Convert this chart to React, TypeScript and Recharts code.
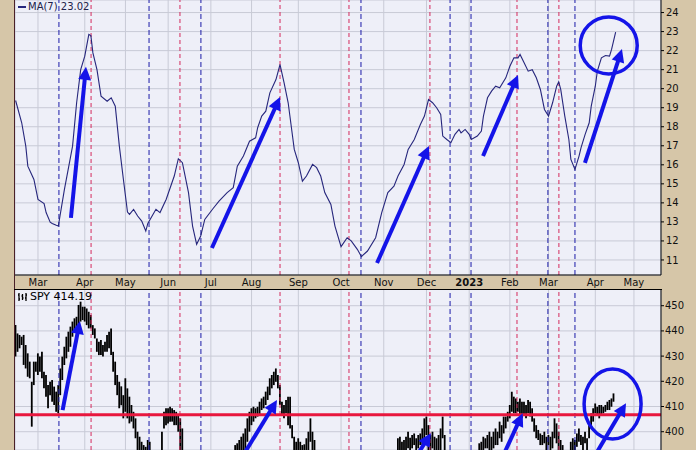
import React from 'react';
import {
  ComposedChart,
  Line,
  Bar,
  XAxis,
  YAxis,
  CartesianGrid,
  ReferenceLine,
  ReferenceDot,
} from 'recharts';

// x axis is trading-day index, 0 = mid Feb 2022
const monthTicks = [11, 34, 54, 75, 96, 116, 139, 160, 181, 202, 223, 243, 262, 285, 304];
const monthLabels = ['Mar', 'Apr', 'May', 'Jun', 'Jul', 'Aug', 'Sep', 'Oct', 'Nov', 'Dec', '2023', 'Feb', 'Mar', 'Apr', 'May'];

const maTicks = [11, 12, 13, 14, 15, 16, 17, 18, 19, 20, 21, 22, 23, 24];
const spyTicks = [400, 410, 420, 430, 440, 450];

// MA(7) line
const maDay = [
  0, 3, 5, 6, 9, 11, 14, 15, 17, 18, 20, 21, 24, 28, 30, 32, 34, 36, 37, 38,
  40, 42, 45, 47, 49, 51, 53, 55, 56, 58, 60, 62, 64, 65, 69, 71, 74, 78, 80, 82,
  85, 87, 89, 91, 93, 97, 100, 104, 107, 109, 112, 115, 118, 119, 121, 123, 125, 128, 130, 132,
  134, 137, 139, 141, 143, 146, 148, 150, 152, 155, 157, 160, 163, 165, 168, 170, 173, 177, 180, 183,
  186, 188, 191, 193, 196, 199, 201, 203, 205, 207, 209, 210, 212, 214, 216, 218, 219, 221, 223, 224,
  227, 229, 230, 232, 234, 236, 238, 241, 243, 245, 247, 248, 250, 252, 254, 256, 258, 260, 262, 264,
  266, 267, 268, 270, 272, 273, 275, 277, 278, 280, 282, 283, 285, 286, 288, 290, 292, 293, 295,
];
const maValue = [
  19.38, 18.21, 16.98, 15.93, 15.23, 14.18, 13.96, 13.49, 12.99, 12.92, 12.82, 12.78, 14.71, 16.98, 19.26, 21.0, 21.71, 22.85, 22.79, 21.88,
  21.0, 19.61, 19.34, 19.52, 19.08, 16.98, 15.23, 13.52, 13.4, 13.66, 13.31, 13.04, 12.52, 12.92, 13.66, 13.49, 14.18, 15.41, 16.32, 16.11,
  14.54, 12.78, 11.82, 12.26, 13.13, 13.69, 14.09, 14.54, 14.8, 15.93, 16.46, 17.24, 17.42, 17.95, 18.56, 18.82, 19.78, 20.48, 21.27, 20.31,
  19.26, 16.81, 16.11, 15.14, 15.41, 16.02, 15.85, 15.41, 14.54, 13.92, 12.78, 11.7, 12.17, 12.0, 11.56, 11.18, 11.47, 12.17, 13.49, 14.54,
  14.88, 15.41, 16.02, 16.81, 17.33, 18.12, 18.56, 19.43, 19.26, 19.0, 18.65, 17.51, 17.33, 17.16, 17.6, 17.86, 17.68, 17.86, 17.6, 17.33,
  17.51, 17.77, 18.56, 19.52, 19.87, 20.13, 20.05, 20.57, 21.18, 21.62, 21.62, 21.8, 21.36, 20.92, 21.0, 20.57, 19.96, 18.91, 18.56, 19.26,
  20.13, 20.36, 19.96, 18.56, 17.33, 16.28, 15.76, 16.46, 16.9, 17.6, 18.21, 19.08, 20.13, 20.92, 21.62, 21.74, 21.71, 22.06, 22.97,
];

// SPY daily high / low, only the days that show inside the lower panel
const spyDay = [
  0, 1, 2, 3, 4, 5, 6, 7, 8, 9, 10, 11, 12, 13, 14, 15, 16, 17, 18, 19,
  20, 21, 22, 23, 24, 25, 26, 27, 28, 29, 30, 31, 32, 33, 34, 35, 36, 37, 38, 39,
  40, 41, 42, 43, 44, 45, 46, 47, 48, 49, 50, 51, 52, 53, 54, 55, 56, 57, 58, 59,
  60, 61, 62, 63, 64, 65, 66,
  72, 73, 74, 75, 76, 77, 78, 79, 80, 81, 82,
  108, 109, 110, 111, 112, 113, 114, 115, 116, 117, 118, 119, 120, 121, 122, 123, 124, 125, 126, 127,
  128, 129, 130, 131, 132, 133, 134, 135, 136, 137, 138, 139, 140, 141, 142, 143, 144, 145, 146, 147,
  188, 189, 190, 191, 192, 193, 194, 195, 196, 197, 198, 199, 200, 201, 202, 203, 204, 205, 206, 207,
  208, 209, 210, 211,
  228, 229, 230, 231, 232, 233, 234, 235, 236, 237, 238, 239, 240, 241, 242, 243, 244, 245, 246, 247,
  248, 249, 250, 251, 252, 253, 254, 255, 256, 257, 258, 259, 260, 261, 262, 263, 264, 265, 266, 267,
  268, 269,
  273, 274, 275, 276, 277, 278, 279, 280, 281, 282, 283, 284, 285, 286, 287, 288, 289, 290, 291, 292,
  293, 294,
];
const spyHigh = [
  442.3, 439.0, 438.4, 437.7, 438.4, 434.4, 431.1, 427.8, 419.8, 427.8, 427.8, 431.1, 429.8, 431.7, 423.8, 422.5, 418.5, 419.8, 420.5, 417.9,
  415.9, 418.5, 425.1, 429.8, 433.7, 437.7, 439.7, 441.7, 443.7, 445.0, 445.6, 450.3, 451.6, 449.6, 449.6, 448.9, 447.6, 446.3, 442.3, 441.0,
  437.0, 435.7, 436.4, 434.4, 435.7, 438.4, 439.7, 441.0, 431.7, 427.8, 422.5, 419.8, 418.0, 414.5, 421.2, 417.2, 413.9, 410.6, 407.9, 405.3,
  400.0, 398.0, 396.0, 394.7, 394.0, 396.7, 396.0,
  400.0, 407.9, 409.3, 409.3, 409.9, 409.3, 408.6, 407.9, 406.6, 405.3, 401.3,
  394.7, 395.4, 396.7, 398.0, 399.3, 401.3, 405.3, 407.9, 409.3, 409.9, 409.3, 409.9, 411.9, 413.2, 413.9, 415.9, 417.9, 421.2, 422.5, 423.8,
  425.1, 422.5, 418.5, 411.9, 410.6, 412.6, 413.9, 413.9, 402.6, 398.0, 396.0, 397.4, 396.0, 394.7, 395.0, 397.4, 400.0, 405.3, 400.0, 396.7,
  397.4, 398.0, 396.0, 396.7, 398.0, 400.0, 397.6, 398.7, 399.3, 397.4, 398.7, 399.3, 401.3, 405.3, 406.0, 402.6, 398.7, 400.0, 398.0, 397.4,
  398.7, 401.3, 406.0, 398.7,
  395.4, 396.0, 398.0, 397.4, 398.7, 400.0, 398.0, 400.0, 401.3, 400.0, 404.0, 402.6, 406.0, 406.0, 407.9, 410.6, 415.9, 413.9, 413.2, 411.9,
  413.2, 411.9, 411.9, 410.6, 412.6, 411.9, 409.3, 405.3, 402.6, 400.7, 399.3, 398.7, 400.0, 398.0, 398.7, 398.0, 400.0, 405.3, 403.3, 400.0,
  396.7, 394.7,
  396.0, 397.4, 396.7, 399.3, 401.3, 398.7, 398.0, 400.0, 397.4, 402.6, 407.3, 409.3, 411.2, 409.9, 410.6, 410.6, 409.9, 410.6, 411.9, 412.6,
  413.2, 415.2,
];
const spyLow = [
  429.8, 431.7, 433.1, 434.4, 426.5, 425.1, 421.8, 421.2, 402.0, 418.5, 423.8, 422.5, 423.8, 421.2, 417.2, 413.9, 409.3, 414.5, 411.9, 410.6,
  407.9, 407.3, 414.5, 420.5, 426.5, 429.1, 431.7, 433.7, 437.7, 439.7, 440.3, 442.3, 443.7, 444.3, 443.7, 442.3, 441.0, 441.0, 438.4, 437.0,
  431.7, 430.4, 430.4, 429.8, 431.7, 431.7, 433.1, 430.4, 423.8, 418.5, 414.5, 409.3, 410.5, 405.3, 407.9, 405.3, 403.3, 404.0, 401.3, 397.4,
  392.0, 390, 390, 389, 388, 390, 390,
  390, 401.3, 402.6, 403.3, 404.0, 404.0, 402.6, 402.6, 400.0, 392.7, 390,
  390, 390, 390, 390, 391, 392.7, 396.0, 400.0, 402.6, 404.0, 405.3, 406.0, 406.6, 408.6, 409.3, 410.6, 412.6, 414.5, 417.2, 418.5,
  419.8, 417.2, 410.6, 406.6, 405.3, 407.3, 402.6, 401.3, 397.4, 390, 390, 390, 390, 390, 390, 390, 392.7, 396.0, 392.7, 390,
  390, 390, 390, 390, 390, 393.4, 390, 393.4, 394.7, 392.7, 393.4, 394.7, 394.7, 397.4, 398.7, 392.7, 390, 393.4, 390, 390,
  390, 392.7, 397.4, 390,
  390, 390, 390, 393.4, 393.4, 392.7, 392.7, 393.4, 394.7, 394.7, 397.4, 396.0, 399.3, 401.3, 404.0, 405.3, 407.9, 407.3, 407.3, 407.9,
  406.6, 405.3, 406.6, 405.3, 407.3, 406.0, 404.0, 400.0, 397.4, 396.7, 394.7, 394.7, 395.4, 392.7, 394.7, 392.7, 393.4, 397.4, 395.4, 392.7,
  390, 390,
  390, 390, 392.7, 394.0, 396.0, 394.7, 392.7, 395.4, 392.7, 397.4, 401.3, 404.0, 407.3, 406.6, 405.3, 406.6, 407.3, 407.9, 408.6, 408.6,
  409.9, 411.9,
];

// cycle markers
const blueCycleDays = [21.3, 65.6, 91.1, 169.8, 213.6, 223.9, 261.7, 275];
const redCycleDays = [37.1, 80.8, 130, 163.9, 203.7, 246.5, 267.1];
const spySupport = 406.7;

// hand-drawn annotations, [day, value]
const maArrowFrom = [[27.2, 13.21], [96.5, 11.63], [177.7, 10.84], [229.8, 16.46], [279.9, 16.1]];
const maArrowTo = [[34.6, 21.15], [130, 19.56], [203.2, 16.99], [247, 20.72], [298.1, 22.08]];
const spyArrowFrom = [[23.1, 408.6], [112.3, 391.2], [197.8, 391.2], [240.1, 391.2], [285.3, 391.2]];
const spyArrowTo = [[31.6, 443.9], [128.5, 412.6], [204.2, 399.4], [249.3, 407.3], [300.1, 411.3]];
const maCircle = [291.6, 22.27];
const spyCircle = [293.5, 411.0];

const maLast = '23.02';
const spyLast = '414.19';

const xDomain: [number, number] = [-0.3, 317.3];
const maDomain: [number, number] = [10.21, 24.66];
const spyDomain: [number, number] = [392.74, 456.63];

const tan = '#d6c6a8';
const panelBg = '#eeeff8';
const gridColor = '#c8cad6';
const cycleBlue = '#1a1aa8';
const cycleRed = '#d42a5c';
const arrowBlue = '#1414e8';
const font = '"DejaVu Sans", Verdana, sans-serif';

const topData = maDay.map((d, i) => ({ day: d, ma: maValue[i] }));
const spyData = spyDay.map((d, i) => ({ day: d, range: [spyLow[i], spyHigh[i]] }));

function arrowShape(props: any) {
  const { x1, y1, x2, y2 } = props;
  const ang = Math.atan2(y2 - y1, x2 - x1);
  const len = 13;
  const half = 6.5;
  const bx = x2 - len * Math.cos(ang);
  const by = y2 - len * Math.sin(ang);
  const px = -Math.sin(ang) * half;
  const py = Math.cos(ang) * half;
  return (
    <g clipPath={props.clipPath}>
      <line x1={x1} y1={y1} x2={bx + Math.cos(ang)} y2={by + Math.sin(ang)} stroke={arrowBlue} strokeWidth={4} />
      <polygon points={`${x2},${y2} ${bx + px},${by + py} ${bx - px},${by - py}`} fill={arrowBlue} />
    </g>
  );
}

const ringShape = (rx: number, ry: number) => (props: any) => (
  <ellipse cx={props.cx} cy={props.cy} rx={rx} ry={ry} fill="none" stroke={arrowBlue} strokeWidth={3.5} />
);

function MonthTick(props: any) {
  const { x, y, payload } = props;
  const label = monthLabels[monthTicks.indexOf(payload.value)];
  return (
    <text x={x} y={y + 11} textAnchor="middle" fontSize={10} fontFamily={font} fill="#111"
      fontWeight={label === '2023' ? 'bold' : 'normal'}>
      {label}
    </text>
  );
}

const cycleLines = (key: string) => [
  ...blueCycleDays.map((d) => (
    <ReferenceLine key={`${key}b${d}`} x={d} stroke={cycleBlue} strokeDasharray="5 3" strokeWidth={1} />
  )),
  ...redCycleDays.map((d) => (
    <ReferenceLine key={`${key}r${d}`} x={d} stroke={cycleRed} strokeDasharray="4 3" strokeWidth={1} />
  )),
];

export default function App() {
  return (
    <div style={{ position: 'absolute', left: 0, top: 0, width: 696, height: 450, background: tan, overflow: 'hidden' }}>
      <div style={{ position: 'absolute', left: 0, top: 0 }}>
        <ComposedChart width={696} height={289} data={topData} margin={{ top: 0, right: 0, bottom: 0, left: 15 }}>
          <CartesianGrid fill={panelBg} stroke={gridColor} />
          {cycleLines('t')}
          <Line dataKey="ma" type="linear" stroke="#26267c" strokeWidth={1.1} dot={false} isAnimationActive={false} />
          {maArrowFrom.map((p, i) => (
            <ReferenceLine key={`ma${i}`} segment={[{ x: p[0], y: p[1] }, { x: maArrowTo[i][0], y: maArrowTo[i][1] }]}
              ifOverflow="hidden" shape={arrowShape} />
          ))}
          <ReferenceDot x={maCircle[0]} y={maCircle[1]} shape={ringShape(28.5, 28.5)} />
          <XAxis dataKey="day" type="number" domain={xDomain} allowDataOverflow ticks={monthTicks} interval={0}
            height={14} axisLine={{ stroke: '#000' }} tickLine={false} tickSize={0} tickMargin={0}
            tick={(p: any) => <MonthTick {...p} />} />
          <YAxis orientation="right" width={35} domain={maDomain} allowDataOverflow ticks={maTicks} interval={0}
            axisLine={{ stroke: '#000' }} tickLine={{ stroke: '#000' }} tickSize={3} tickMargin={2}
            tick={{ fontSize: 10, fill: '#111', fontFamily: font }} />
        </ComposedChart>
      </div>
      <div style={{ position: 'absolute', left: 0, top: 289 }}>
        <ComposedChart width={696} height={161} data={spyData} margin={{ top: 0, right: 0, bottom: 0, left: 15 }}>
          <CartesianGrid fill={panelBg} stroke={gridColor} />
          {cycleLines('b')}
          <Bar dataKey="range" fill="#000" barSize={1.8} isAnimationActive={false} />
          <ReferenceLine y={spySupport} stroke="#e8173e" strokeWidth={3} />
          {spyArrowFrom.map((p, i) => (
            <ReferenceLine key={`spy${i}`} segment={[{ x: p[0], y: p[1] }, { x: spyArrowTo[i][0], y: spyArrowTo[i][1] }]}
              ifOverflow="hidden" shape={arrowShape} />
          ))}
          <ReferenceDot x={spyCircle[0]} y={spyCircle[1]} shape={ringShape(28.5, 35)} />
          <XAxis dataKey="day" type="number" domain={xDomain} allowDataOverflow ticks={monthTicks} interval={0} hide />
          <YAxis orientation="right" width={35} domain={spyDomain} allowDataOverflow ticks={spyTicks} interval={0}
            axisLine={{ stroke: '#000' }} tickLine={{ stroke: '#000' }} tickSize={3} tickMargin={1}
            tick={{ fontSize: 10, fill: '#111', fontFamily: font }} />
        </ComposedChart>
      </div>
      {/* frame edges */}
      <div style={{ position: 'absolute', left: 14, top: 0, width: 1, height: 450, background: '#4a2028' }} />
      <div style={{ position: 'absolute', left: 14, top: 289, width: 648, height: 1, background: '#000' }} />
      {/* panel legends */}
      <div style={{ position: 'absolute', left: 18, top: 1, display: 'flex', alignItems: 'center', fontFamily: font, fontSize: 10, lineHeight: '12px', color: '#22224a' }}>
        <span style={{ display: 'inline-block', width: 8, height: 2, background: '#26267c', marginRight: 2 }} />
        <span>MA(7) {maLast}</span>
      </div>
      <div style={{ position: 'absolute', left: 17, top: 290, display: 'flex', alignItems: 'center', fontFamily: font, fontSize: 11, lineHeight: '13px', color: '#000' }}>
        <svg width={11} height={10} style={{ marginRight: 2 }}>
          <path d="M2 1 V9 M1 3 H2 M2 7 H3 M5.5 2 V8 M4.5 4 H5.5 M5.5 6 H6.5 M9 1 V9 M8 6 H9 M9 3 H10" stroke="#000" strokeWidth={1.3} fill="none" />
        </svg>
        <span>SPY {spyLast}</span>
      </div>
    </div>
  );
}
